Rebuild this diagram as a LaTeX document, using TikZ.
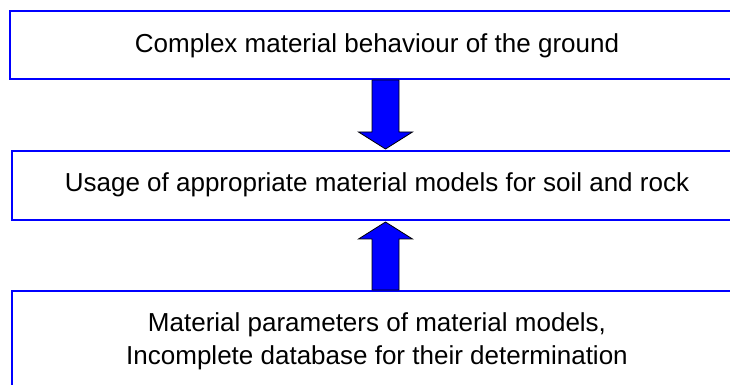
\documentclass[tikz,border=0pt]{standalone}
\usepackage{fontspec}
\setmainfont{Liberation Sans}
\usetikzlibrary{calc}
\begin{document}
\begin{tikzpicture}[x=1pt,y=1pt,
  box/.style={draw=blue, line width=2pt, fill=white, inner sep=0pt},
  lbl/.style={font=\fontsize{26}{33}\selectfont, align=center, inner sep=0pt, text=black, anchor=base},
  bigarrow/.style={draw=black, line width=0.8pt, fill=blue, line join=miter}]
\useasboundingbox (0,0) rectangle (730,385);
\fill[white] (0,0) rectangle (730,385);
% boxes
\node[box, anchor=north west, minimum width=760pt, minimum height=68pt] (b1) at (9,375) {};
\node[box, anchor=north west, minimum width=760pt, minimum height=69pt] (b2) at (11,235) {};
\node[box, anchor=north west, minimum width=760pt, minimum height=120pt] (b3) at (11,95) {};
% texts
\node[lbl] (t1) at (377,332) {Complex material behaviour of the ground};
\node[lbl] (t2) at (377,193) {Usage of appropriate material models for soil and rock};
\node[lbl] (t3) at (377,20) {Material parameters of material models,\\Incomplete database for their determination};
% arrows
\coordinate (a1s) at (b1.south -| 385.5,0);
\coordinate (a1t) at (b2.north -| 385.5,0);
\draw[bigarrow] ($(a1s)+(-13.5,0)$) -- ($(a1t)+(-13.5,18)$) -- ($(a1t)+(-27,18)$) -- ($(a1t)+(0,1)$) -- ($(a1t)+(27,18)$) -- ($(a1t)+(13.5,18)$) -- ($(a1s)+(13.5,0)$) -- cycle;
\coordinate (a2s) at (b3.north -| 385.5,0);
\coordinate (a2t) at (b2.south -| 385.5,0);
\draw[bigarrow] ($(a2s)+(-13.5,0)$) -- ($(a2t)+(-13.5,-18)$) -- ($(a2t)+(-27,-18)$) -- ($(a2t)+(0,-1)$) -- ($(a2t)+(27,-18)$) -- ($(a2t)+(13.5,-18)$) -- ($(a2s)+(13.5,0)$) -- cycle;
\end{tikzpicture}
\end{document}
